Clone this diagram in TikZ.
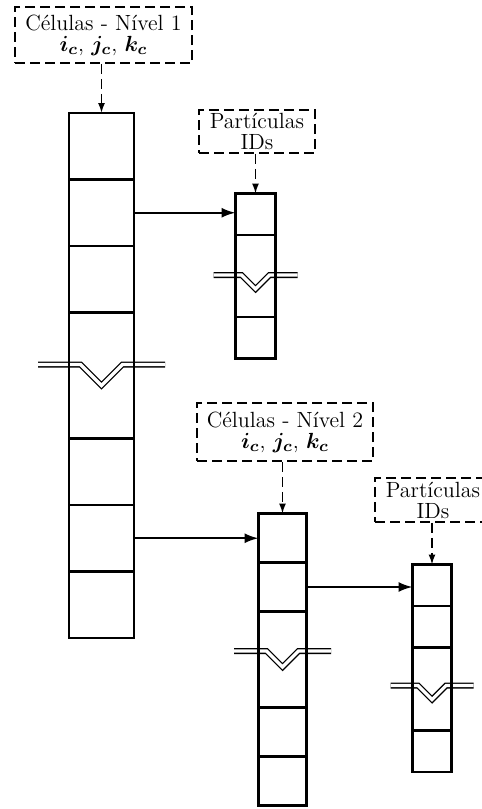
\documentclass[tikz,border=0pt]{standalone}
\usepackage{amsmath}
\usepackage{tikz}
\usetikzlibrary{positioning}
\usetikzlibrary{arrows.meta}

% quebra dupla em V atravessando uma coluna: x, y, meia largura, meia abertura do V
\newcommand{\cortecoluna}[4]{%
  \draw[corte] (#1-#3,#2) -- (#1-#4,#2) -- (#1,#2+#4) -- (#1+#4,#2) -- (#1+#3,#2);}

\begin{document}
\begin{tikzpicture}[x=0.5pt, y=-0.5pt, >={Latex[length=7pt,width=5pt]},
    cel/.style={draw, line width=1.4pt, inner sep=0pt, outer sep=0pt},
    rot/.style={draw, dash pattern=on 5pt off 2.5pt, line width=0.8pt, align=center,
        inner sep=0pt, font=\fontsize{11}{10.5}\selectfont},
    seta/.style={->, line width=1pt},
    setatr/.style={-{Latex[length=5pt,width=3.5pt]}, dash pattern=on 5pt off 2.5pt, line width=0.8pt},
    corte/.style={double, line width=0.7pt, double distance=1.6pt}]

    \useasboundingbox (0,0) rectangle (482,809);

    % Rotulos
    \node[rot, minimum width=88.5pt, minimum height=28pt] at (103.5,35) (celA)
        {C\'elulas - N\'ivel 1\\ $\boldsymbol{i_c}$, $\boldsymbol{j_c}$, $\boldsymbol{k_c}$};
    \node[rot, minimum width=58pt, minimum height=21.5pt] at (257,131.5) (idsA)
        {Part\'iculas\\ IDs};
    \node[rot, minimum width=88pt, minimum height=29pt] at (285,432) (celB)
        {C\'elulas - N\'ivel 2\\ $\boldsymbol{i_c}$, $\boldsymbol{j_c}$, $\boldsymbol{k_c}$};
    \node[rot, minimum width=58pt, minimum height=22pt] at (433,500) (idsB)
        {Part\'iculas\\ IDs};

    % Quebras (antes das colunas, para as linhas verticais ficarem por cima)
    \cortecoluna{101.5}{364.5}{63.5}{21}
    \cortecoluna{255.5}{275}{42}{14}
    \cortecoluna{282.5}{651}{48.5}{16}
    \cortecoluna{432}{685.5}{41.5}{14}

    % Coluna das celulas - nivel 1
    \tikzset{ca/.style={cel, minimum width=32.5pt, minimum height=33.25pt}}
    \node[ca] at (101.5,146.25) (a1) {};
    \node[ca, below=0pt of a1] (a2) {};
    \node[ca, below=0pt of a2] (a3) {};
    \node[ca, below=0pt of a3, minimum height=63pt] (a4) {};
    \node[ca, below=0pt of a4] (a5) {};
    \node[ca, below=0pt of a5] (a6) {};
    \node[ca, below=0pt of a6] (a7) {};

    % Coluna das particulas do nivel 1
    \tikzset{cp/.style={cel, minimum width=20pt, minimum height=20.75pt}}
    \node[cp] at (255.5,214.25) (p1) {};
    \node[cp, below=0pt of p1, minimum height=41pt] (p2) {};
    \node[cp, below=0pt of p2] (p3) {};

    % Coluna das celulas - nivel 2
    \tikzset{cb/.style={cel, minimum width=24pt, minimum height=24.5pt}}
    \node[cb] at (282.5,538) (b1) {};
    \node[cb, below=0pt of b1] (b2) {};
    \node[cb, below=0pt of b2, minimum height=48pt] (b3) {};
    \node[cb, below=0pt of b3] (b4) {};
    \node[cb, below=0pt of b4] (b5) {};

    % Coluna das particulas do nivel 2
    \tikzset{cq/.style={cel, minimum width=19.5pt, minimum height=20.75pt}}
    \node[cq] at (432,585.25) (q1) {};
    \node[cq, below=0pt of q1] (q2) {};
    \node[cq, below=0pt of q2, minimum height=41.5pt] (q3) {};
    \node[cq, below=0pt of q3] (q4) {};

    % Setas tracejadas dos rotulos
    \draw[setatr] (a1.north |- celA.south) -- (a1.north);
    \draw[setatr] (p1.north |- idsA.south) -- (p1.north);
    \draw[setatr] (b1.north |- celB.south) -- (b1.north);
    \draw[setatr] (q1.north |- idsB.south) -- (q1.north);

    % Setas entre colunas
    \draw[seta] (a2.east) -- (a2.east -| p1.west);
    \draw[seta] (a6.east) -- (a6.east -| b1.west);
    \draw[seta] (b2.east) -- (b2.east -| q1.west);

\end{tikzpicture}
\end{document}
